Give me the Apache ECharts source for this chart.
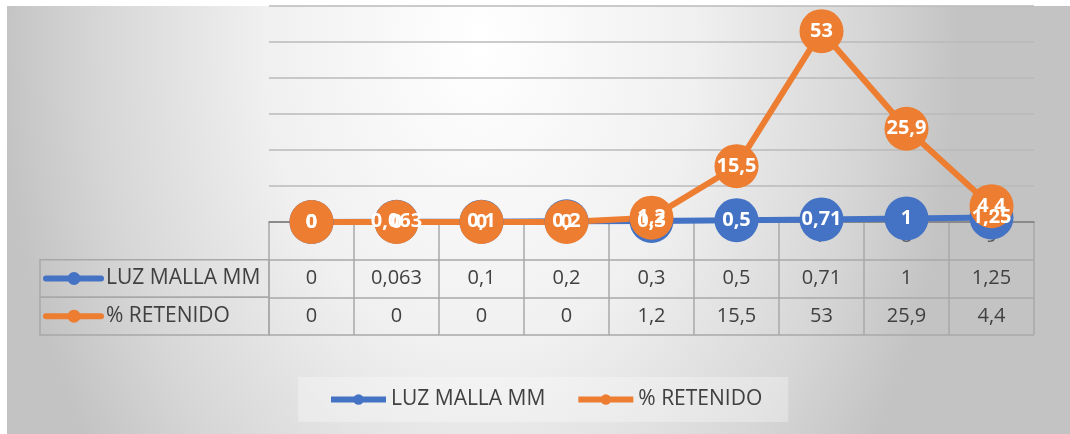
<!DOCTYPE html>
<html>
<head>
<meta charset="utf-8">
<script src="https://cdn.jsdelivr.net/npm/echarts@6/dist/echarts.min.js"></script>
<style>
  html, body { margin: 0; padding: 0; background: #fff; }
  #chart { width: 1070px; height: 434px; }
</style>
</head>
<body>
<div id="chart"></div>
<script>
// data
var categories = ['1', '2', '3', '4', '5', '6', '7', '8', '9'];
var luzMalla = [0, 0.063, 0.1, 0.2, 0.3, 0.5, 0.71, 1, 1.25];
var retenido = [0, 0, 0, 0, 1.2, 15.5, 53, 25.9, 4.4];
var seriesNames = ['LUZ MALLA MM', '% RETENIDO'];
var yMax = 60, yStep = 10;

var colors = ['#4472c4', '#ed7d31'];
var FONT = '"Open Sans", "Noto Sans", sans-serif';
var NAME_COL_W = 229;
var BORDER = '#a8a8a8';

function fmt(v) {
  return String(v).replace('.', ',');
}

var chart = echarts.init(document.getElementById('chart'));

// table cells (value rows)
var tableCells = [];
var tableTexts = [];
[luzMalla, retenido].forEach(function (arr, r) {
  arr.forEach(function (v, i) {
    tableCells.push([i, r + 1]);
    tableTexts.push(fmt(v));
  });
});

function lineSeries(name, data, color) {
  return {
    name: name,
    type: 'line',
    xAxisIndex: 0,
    yAxisIndex: 0,
    data: data,
    symbol: 'circle',
    symbolSize: 44,
    color: color,
    lineStyle: { width: 6, color: color },
    itemStyle: { color: color },
    label: {
      show: true,
      position: 'inside',
      color: '#fff',
      fontWeight: 'bold',
      fontSize: 20,
      fontFamily: FONT,
      formatter: function (p) { return fmt(p.value); }
    },
    emphasis: { disabled: true }
  };
}

var option = {
  animation: false,
  backgroundColor: '#fff',
  graphic: [
    {
      type: 'rect',
      z: -100,
      x: 7,
      y: 6,
      scaleY: 1.458,
      shape: { x: 0, y: 0, width: 1063, height: 293.5 },
      style: {
        fill: {
          type: 'radial', x: 0.445, y: 0.08, r: 1.635,
          colorStops: [
            { offset: 0, color: '#ffffff' },
            { offset: 0.45, color: '#f0f0f0' },
            { offset: 0.8, color: '#d6d6d6' },
            { offset: 1, color: '#c3c3c3' }
          ]
        }
      },
      silent: true
    }
  ],
  legend: {
    data: seriesNames,
    left: 298,
    top: 377,
    padding: [12, 26, 12, 30],
    itemGap: 30,
    itemWidth: 55,
    itemHeight: 13,
    lineStyle: { width: 6 },
    backgroundColor: 'rgba(255,255,255,0.3)',
    textStyle: { fontSize: 21, color: '#404040', fontFamily: FONT }
  },
  grid: [
    { left: 269, right: 36, top: 6, height: 216 },
    { left: 269, right: 36, top: 222, height: 113 }
  ],
  xAxis: [
    {
      type: 'category',
      gridIndex: 0,
      data: categories,
      axisLine: { lineStyle: { color: '#7f7f7f', width: 1.5 } },
      axisTick: { show: false },
      axisLabel: { fontSize: 20, color: '#595959', fontFamily: FONT, margin: 4 }
    },
    {
      type: 'category',
      gridIndex: 1,
      data: categories,
      axisLine: { show: false },
      axisTick: { show: false },
      axisLabel: { show: false },
      splitLine: { show: true, interval: 0, lineStyle: { color: BORDER, width: 1.5 } }
    }
  ],
  yAxis: [
    {
      type: 'value',
      gridIndex: 0,
      min: 0,
      max: yMax,
      interval: yStep,
      axisLine: { show: false },
      axisTick: { show: false },
      axisLabel: { show: false },
      splitLine: { lineStyle: { color: '#bababa', width: 1.5 } }
    },
    {
      type: 'category',
      gridIndex: 1,
      inverse: true,
      data: [''].concat(seriesNames),
      axisLine: { show: false },
      axisTick: { show: false },
      axisLabel: { show: false },
      splitLine: { show: true, interval: 0, lineStyle: { color: BORDER, width: 1.5 } }
    }
  ],
  series: [
    lineSeries(seriesNames[0], luzMalla, colors[0]),
    lineSeries(seriesNames[1], retenido, colors[1]),
    {
      name: 'tabla',
      type: 'custom',
      xAxisIndex: 1,
      yAxisIndex: 1,
      silent: true,
      data: tableCells,
      renderItem: function (params, api) {
        var p = api.coord([api.value(0), api.value(1)]);
        return {
          type: 'text',
          x: p[0],
          y: p[1],
          style: {
            text: tableTexts[params.dataIndex],
            align: 'center',
            verticalAlign: 'middle',
            fill: '#404040',
            fontSize: 20,
            fontFamily: FONT
          }
        };
      }
    },
    {
      name: 'nombres',
      type: 'custom',
      xAxisIndex: 1,
      yAxisIndex: 1,
      silent: true,
      clip: false,
      data: [[0, 1], [0, 2]],
      renderItem: function (params, api) {
        var idx = params.dataIndex;
        var cs = params.coordSys;
        var rowH = cs.height / 3;
        var p = api.coord([0, api.value(1)]);
        var x0 = cs.x - NAME_COL_W;
        var c = colors[idx];
        return {
          type: 'group',
          children: [
            { type: 'rect', shape: { x: x0, y: p[1] - rowH / 2, width: NAME_COL_W, height: rowH },
              style: { fill: 'none', stroke: BORDER, lineWidth: 1.5 } },
            { type: 'line', shape: { x1: x0 + 6, y1: p[1], x2: x0 + 61, y2: p[1] },
              style: { stroke: c, lineWidth: 6, lineCap: 'round' } },
            { type: 'circle', shape: { cx: x0 + 34, cy: p[1], r: 6.5 }, style: { fill: c } },
            { type: 'text', x: x0 + 66, y: p[1],
              style: { text: seriesNames[idx], verticalAlign: 'middle', fill: '#404040', fontSize: 21, fontFamily: FONT } }
          ]
        };
      }
    }
  ]
};

chart.setOption(option);
window.addEventListener('resize', function () {
  chart.resize();
});
</script>
</body>
</html>
